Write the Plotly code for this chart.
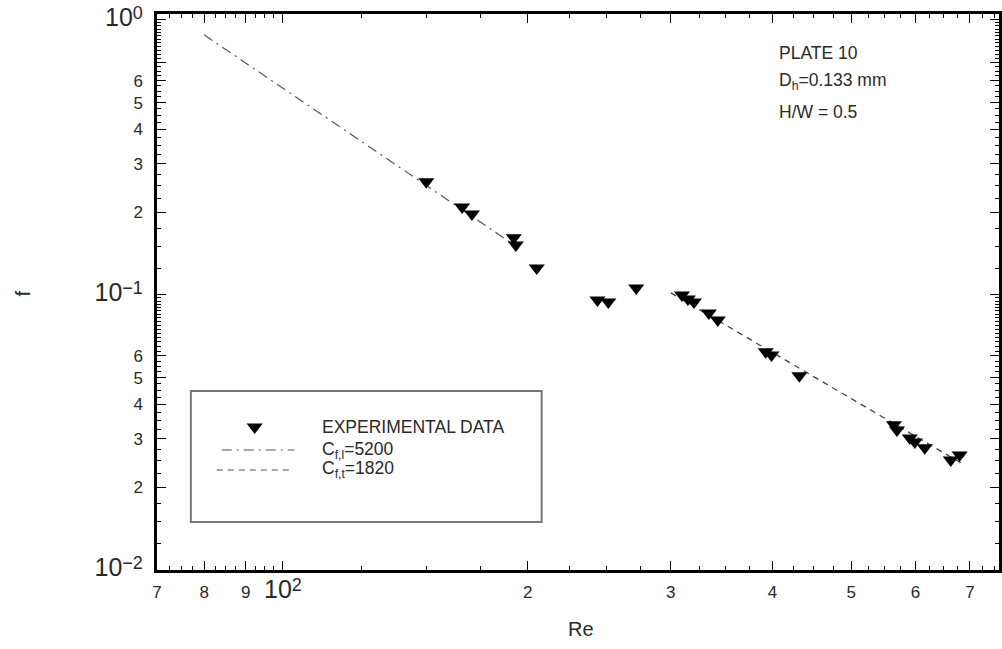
import plotly.graph_objects as go
import numpy as np

# ---- data ----
re_exp = [150.1, 166.1, 170.8, 192.3, 193.4, 205.2, 243.7, 251.3, 272.0,
          309.6, 314.9, 320.3, 334.1, 342.7, 392.5, 399.0, 431.8,
          564.4, 569.2, 590.4, 598.8, 615.9, 662.9, 679.8]
f_exp = [0.2576, 0.2089, 0.1970, 0.1612, 0.1520, 0.1253, 0.0959, 0.0943, 0.1060,
         0.1000, 0.0967, 0.0943, 0.0860, 0.0811, 0.0621, 0.0605, 0.0508,
         0.0337, 0.0323, 0.0302, 0.0292, 0.0278, 0.0251, 0.0262]

re_lam = [80.0, 195.0]
f_lam = [0.882, 0.148]
re_turb = [300.0, 689.0]
f_turb = [0.1017, 0.0241]


def power(exp):
    return ('<span style="font-size:25px">10</span>'
            '<sup><span style="font-size:18px">' + exp + '</span></sup>')


x_tick_vals = [70, 80, 90, 100, 200, 300, 400, 500, 600, 700]
x_tick_text = ["7", "8", "9", power("2"), "2", "3", "4", "5", "6", "7"]
y_tick_vals = [0.01, 0.02, 0.03, 0.04, 0.05, 0.06, 0.07, 0.08, 0.09,
               0.1, 0.2, 0.3, 0.4, 0.5, 0.6, 0.7, 0.8, 0.9, 1.0]
y_tick_text = [power("\u22122"), "2", "3", "4", "5", "6", "", "", "",
               power("\u22121"), "2", "3", "4", "5", "6", "", "", "",
               power("0")]

# quarter-step minor ticks
x_minor = [k * 0.25 * 10 ** d for d in (1, 2) for k in range(4, 40)]
x_minor = [v for v in x_minor if 70 <= v <= 760]
y_minor = [k * 0.25 * 10 ** d for d in (-2, -1) for k in range(4, 40)]

FONT = "Liberation Sans"
INK = "#2a2a2a"
LAM_DASH = "10px,5px,2px,5px"
TURB_DASH = "6px,5px"

fig = go.Figure()
fig.add_trace(go.Scatter(x=re_lam, y=f_lam, mode="lines",
                         line=dict(color="#555", width=1.2, dash=LAM_DASH)))
fig.add_trace(go.Scatter(x=re_turb, y=f_turb, mode="lines",
                         line=dict(color="#444", width=1.3, dash=TURB_DASH)))
fig.add_trace(go.Scatter(x=re_exp, y=f_exp, mode="markers",
                         marker=dict(symbol="triangle-down", size=14, color="black")))
# legend sample marker on an invisible overlay axis (0..1 = plot area)
fig.add_trace(go.Scatter(x=[0.116], y=[0.257], mode="markers", xaxis="x2", yaxis="y2",
                         marker=dict(symbol="triangle-down", size=14, color="black")))

axis_common = dict(type="log", showgrid=False, zeroline=False, showline=True,
                   linecolor="black", linewidth=2.5, mirror="allticks",
                   ticks="inside", ticklen=9, tickwidth=1.2, tickcolor="black",
                   tickfont=dict(family=FONT, size=17, color=INK))

xaxis = dict(range=[np.log10(70), np.log10(760)], tickmode="array",
             tickvals=x_tick_vals, ticktext=x_tick_text,
             minor=dict(tickmode="array", tickvals=x_minor, ticks="inside",
                        ticklen=4, tickwidth=1, tickcolor="black"),
             ticklabelstandoff=5, **axis_common)
yaxis = dict(range=[-2, np.log10(1.05)], tickmode="array",
             tickvals=y_tick_vals, ticktext=y_tick_text,
             minor=dict(tickmode="array", tickvals=y_minor, ticks="inside",
                        ticklen=4, tickwidth=1, tickcolor="black"),
             ticklabelstandoff=8, **axis_common)

# legend box and samples (paper coords)
shapes = [
    dict(type="rect", xref="paper", yref="paper",
         x0=0.0402, x1=0.4568, y0=0.0863, y1=0.3219,
         line=dict(color="#777", width=2)),
    dict(type="line", xref="paper", yref="paper",
         x0=0.0769, x1=0.1633, y0=0.2158, y1=0.2158,
         line=dict(color="#555", width=1.2, dash=LAM_DASH)),
    dict(type="line", xref="paper", yref="paper",
         x0=0.0710, x1=0.1586, y0=0.1799, y1=0.1799,
         line=dict(color="#555", width=1.2, dash=TURB_DASH)),
]

ann = []
for txt, yy in [("EXPERIMENTAL DATA", 0.2572),
                ("C<sub>f,l</sub>=5200", 0.2158),
                ("C<sub>f,t</sub>=1820", 0.1799)]:
    ann.append(dict(text=txt, x=0.194, y=yy, xref="paper", yref="paper",
                    xanchor="left", yanchor="middle", showarrow=False,
                    font=dict(family=FONT, size=17.5, color=INK)))
for txt, yy in [("PLATE 10", 0.930),
                ("D<sub>h</sub>=0.133 mm", 0.8777),
                ("H/W = 0.5", 0.8237)]:
    ann.append(dict(text=txt, x=0.736, y=yy, xref="paper", yref="paper",
                    xanchor="left", yanchor="middle", showarrow=False,
                    font=dict(family=FONT, size=17.5, color=INK)))
ann.append(dict(text="f", x=-0.1598, y=0.4982, xref="paper", yref="paper",
                xanchor="center", yanchor="middle", showarrow=False, textangle=-90,
                font=dict(family=FONT, size=21, color=INK)))
ann.append(dict(text="Re", x=0.504, y=-0.106, xref="paper", yref="paper",
                xanchor="center", yanchor="middle", showarrow=False,
                font=dict(family=FONT, size=20, color=INK)))

fig.update_layout(width=1002, height=649, autosize=False,
                  margin=dict(l=157, r=0, t=14, b=79),
                  paper_bgcolor="white", plot_bgcolor="white",
                  xaxis=xaxis, yaxis=yaxis,
                  xaxis2=dict(overlaying="x", range=[0, 1], visible=False, anchor="y2"),
                  yaxis2=dict(overlaying="y", range=[0, 1], visible=False, anchor="x2"),
                  shapes=shapes, annotations=ann, showlegend=False)

fig.write_html("out.html")
